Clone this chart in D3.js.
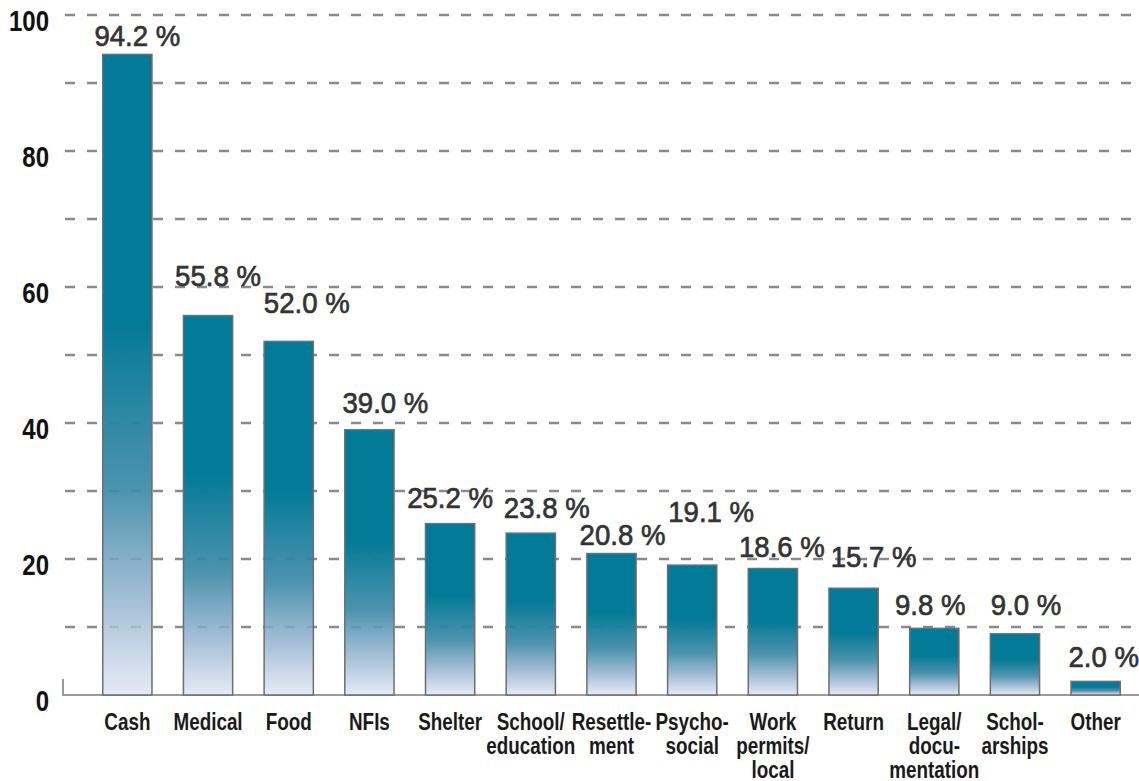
<!doctype html>
<html lang="en">
<head>
<meta charset="UTF-8">
<title>Assistance received</title>
<style>
  body { margin: 0; background: #fff; }
  #chart text { font-family: "Liberation Sans", Arial, sans-serif; }
  .grid line { stroke: #8a8a8a; stroke-width: 2.4; stroke-dasharray: 10 12; }
  .tick-label { font-size: 30px; font-weight: bold; fill: #111; }
  .cat-label { font-size: 23px; font-weight: bold; fill: #1a1a1a; }
  #chart text.val-label { font-size: 30px; fill: #333; stroke: #333; stroke-width: 0.7; }
</style>
</head>
<body>
<svg id="chart" width="1139" height="781"></svg>
<script src="https://cdn.jsdelivr.net/npm/d3@7"></script>
<script>
var categories = ['Cash', 'Medical', 'Food', 'NFIs', 'Shelter', 'School/ education', 'Resettle- ment',
                  'Psycho- social', 'Work permits/ local', 'Return', 'Legal/ docu- mentation', 'Schol- arships', 'Other']
var catLines = [['Cash'], ['Medical'], ['Food'], ['NFIs'], ['Shelter'], ['School/', 'education'], ['Resettle-', 'ment'],
                ['Psycho-', 'social'], ['Work', 'permits/', 'local'], ['Return'], ['Legal/', 'docu-', 'mentation'], ['Schol-', 'arships'], ['Other']]
var values = [94.2, 55.8, 52.0, 39.0, 25.2, 23.8, 20.8, 19.1, 18.6, 15.7, 9.8, 9.0, 2.0]
var yTicks = [0, 20, 40, 60, 80, 100]
var gridTicks = [10, 20, 30, 40, 50, 60, 70, 80, 90, 100]

// hand nudges for the value labels, as placed in the original
var labelDx = [10, 10, 18, 16, 0, 16, 11, 19, 9, 20, -4, 11, 8]
var labelLift = [8, 30, 28, 17, 16, 15, 9, 43, 12, 21, 13, 19, 14]

var svg = d3.select('#chart')

var x = d3.scaleBand().domain(categories).range([87, 1136]).paddingInner(0.39).paddingOuter(0.195)
var y = d3.scaleLinear().domain([0, 100]).range([695, 15])

// no condensed face installed, so squeeze the text horizontally
function squeeze(sel, fx, fy, sx) {
    sel.attr('x', 0).attr('y', 0)
       .attr('transform', function(d, i) { return 'translate(' + fx(d, i) + ',' + fy(d, i) + ') scale(' + sx + ',1)' })
}

var defs = svg.append('defs')
var grad = defs.append('linearGradient').attr('id', 'barGrad')
    .attr('x1', 0).attr('y1', 0).attr('x2', 0).attr('y2', 1)
grad.append('stop').attr('offset', 0).attr('stop-color', '#037a97')
grad.append('stop').attr('offset', 0.42).attr('stop-color', '#037a97')
grad.append('stop').attr('offset', 0.68).attr('stop-color', '#3d8aa8').attr('stop-opacity', 0.92)
grad.append('stop').attr('offset', 0.85).attr('stop-color', '#93b3cf').attr('stop-opacity', 0.85)
grad.append('stop').attr('offset', 1).attr('stop-color', '#dfe5f3').attr('stop-opacity', 0.8)

// dashed grid
svg.append('g').attr('class', 'grid')
    .selectAll('line').data(gridTicks).join('line')
    .attr('x1', 65).attr('x2', 1139)
    .attr('y1', function(d) { return y(d) }).attr('y2', function(d) { return y(d) })

// baseline
svg.append('path')
    .attr('d', 'M63,' + (y(0) - 16) + 'V' + y(0) + 'H1139')
    .attr('fill', 'none').attr('stroke', '#9a9a9a').attr('stroke-width', 2)

// bars
svg.append('g').selectAll('rect').data(values).join('rect')
    .attr('x', function(d, i) { return x(categories[i]) })
    .attr('y', function(d) { return y(d) })
    .attr('width', x.bandwidth())
    .attr('height', function(d) { return y(0) - y(d) })
    .attr('fill', 'url(#barGrad)')
    .attr('stroke', '#6e6e6e').attr('stroke-width', 1.5)

// y tick labels
svg.append('g').selectAll('text').data(yTicks).join('text')
    .attr('class', 'tick-label')
    .attr('text-anchor', 'end')
    .text(function(d) { return d })
    .call(squeeze, function() { return 49 }, function(d) { return y(d) + 16 }, 0.8)

// value labels
svg.append('g').selectAll('text').data(values).join('text')
    .attr('class', 'val-label')
    .attr('text-anchor', 'middle')
    .text(function(d) { return d.toFixed(1) + ' %' })
    .call(squeeze, function(d, i) { return x(categories[i]) + x.bandwidth() / 2 + labelDx[i] },
          function(d, i) { return y(d) - labelLift[i] }, 0.92)

// category labels
var cats = svg.append('g').selectAll('text').data(catLines).join('text')
    .attr('class', 'cat-label')
    .attr('text-anchor', 'middle')
    .call(squeeze, function(d, i) { return x(categories[i]) + x.bandwidth() / 2 }, function() { return 730 }, 0.82)
cats.selectAll('tspan').data(function(d) { return d }).join('tspan')
    .attr('x', 0)
    .attr('dy', function(d, i) { return i === 0 ? 0 : 24 })
    .text(function(d) { return d })
</script>
</body>
</html>
